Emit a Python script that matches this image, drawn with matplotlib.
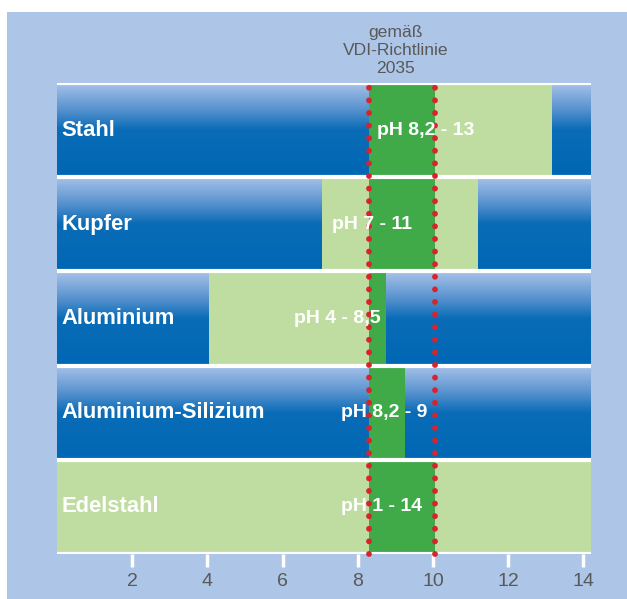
import matplotlib.pyplot as plt
import numpy as np
from matplotlib.colors import LinearSegmentedColormap
from matplotlib.patches import Rectangle

# materials from top to bottom
materials = ['Stahl', 'Kupfer', 'Aluminium', 'Aluminium-Silizium', 'Edelstahl']
ph_labels = ['pH 8,2 - 13', 'pH 7 - 11', 'pH 4 - 8,5', 'pH 8,2 - 9', 'pH 1 - 14']
range_lo = [8.3, 7.05, 4.05, 8.3, 0.0]
range_hi = [13.15, 11.2, 8.75, 9.25, 14.2]
label_x = [8.5, 7.3, 6.3, 7.55, 7.55]
vdi_lo = 8.3
vdi_hi = 10.05
xticks = [2, 4, 6, 8, 10, 12, 14]

panel_col = '#adc5e7'
light_green = '#bfdda0'
dark_green = '#40aa48'
dot_red = '#d9232c'
gray = '#595959'

plt.rcParams['font.family'] = ['Liberation Sans', 'DejaVu Sans']

fig = plt.figure(figsize=(6.27, 5.99), dpi=100)
fig.add_artist(Rectangle((7 / 627, 0), 1, 1 - 12 / 599, transform=fig.transFigure,
                         facecolor=panel_col, edgecolor='none', zorder=-10))

ax = fig.add_axes([57 / 627, 1 - 554 / 599, 534 / 627, 471 / 599])
ax.set_xlim(0, 14.2)
ax.set_ylim(0, 5)
ax.patch.set_alpha(0)

# blue gradient, light at top of each row
cmap = LinearSegmentedColormap.from_list('bl', [(0.0, '#a8c3ea'), (0.27, '#5d95d0'),
                                                (0.5, '#0a6cb7'), (1.0, '#0067b4')])
grad = np.linspace(0, 1, 200).reshape(-1, 1)
n = len(materials)
for i, m in enumerate(materials):
    y0 = n - 1 - i
    ax.imshow(grad, cmap=cmap, aspect='auto', extent=(0, 14.2, y0, y0 + 1),
              origin='upper', zorder=1)
    ax.barh(y0 + 0.5, range_hi[i] - range_lo[i], left=range_lo[i], height=1,
            color=light_green, zorder=2)
    g_lo = max(range_lo[i], vdi_lo)
    g_hi = min(range_hi[i], vdi_hi)
    if g_hi > g_lo:
        ax.barh(y0 + 0.5, g_hi - g_lo, left=g_lo, height=1, color=dark_green, zorder=3)
    ax.text(0.12, y0 + 0.5, m, color='white', fontsize=15.8, fontweight='bold',
            va='center', ha='left', zorder=6)
    ax.text(label_x[i], y0 + 0.5, ph_labels[i], color='white', fontsize=14,
            fontweight='bold', va='center', ha='left', zorder=6)

# white separators
for y in range(n + 1):
    ax.axhline(y, color='white', lw=3, zorder=4)

# VDI dotted lines
for xv in [vdi_lo, vdi_hi]:
    ax.plot([xv, xv], [0, 5.02], color=dot_red, lw=4.2, dash_capstyle='round',
            linestyle=(0, (0.01, 2.15)), zorder=5, clip_on=False)

ax.set_xticks(xticks)
ax.set_yticks([])
for s in ax.spines.values():
    s.set_visible(False)
ax.tick_params(axis='x', colors='white', width=2.5, length=9, labelsize=14,
               labelcolor=gray, pad=5)

ax.text(9.0, 5.07, 'gemäß\nVDI-Richtlinie\n2035', color=gray,
        fontsize=12.6, ha='center', va='bottom', linespacing=1.28)

fig.savefig('out.png', dpi=100)
